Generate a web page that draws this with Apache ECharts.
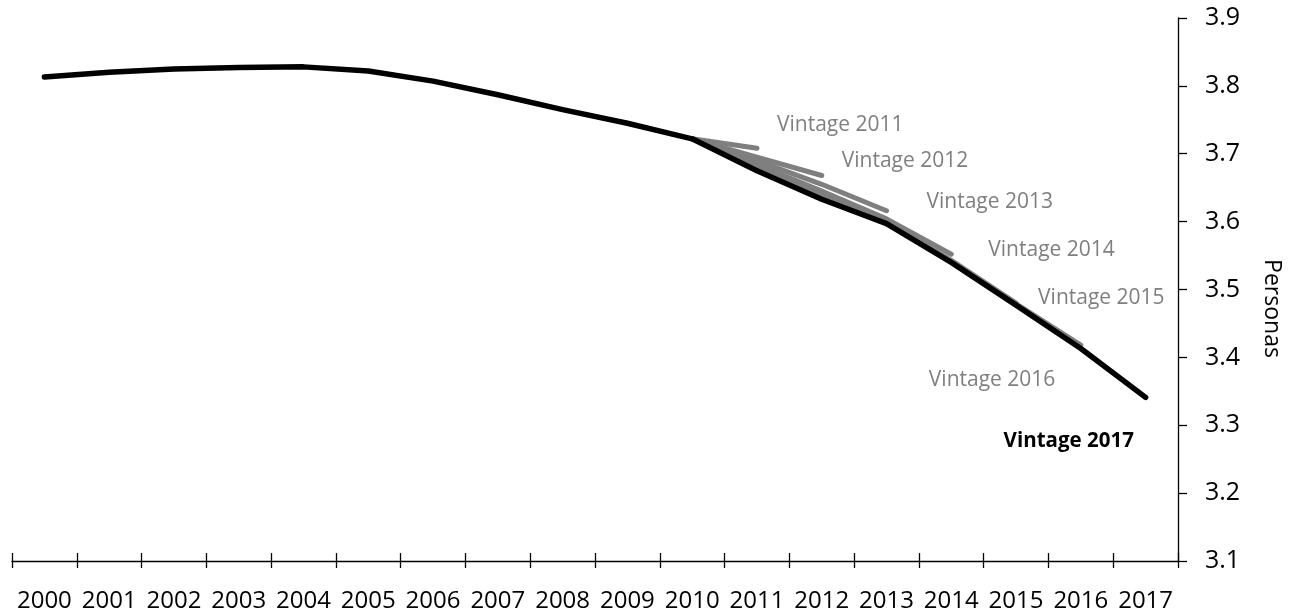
<!DOCTYPE html>
<html>
<head>
<meta charset="utf-8">
<script src="https://cdn.jsdelivr.net/npm/echarts@6/dist/echarts.min.js"></script>
<style>
html,body{margin:0;padding:0;background:#fff;}
#c{width:1294px;height:613px;}
</style>
</head>
<body>
<div id="c"></div>
<script>
var years = ['2000','2001','2002','2003','2004','2005','2006','2007','2008','2009','2010','2011','2012','2013','2014','2015','2016','2017'];
var yTicks = [3.1, 3.9, 0.1]; // min, max, step
var v2017 = [3.813,3.820,3.825,3.827,3.828,3.822,3.807,3.787,3.765,3.745,3.722,3.675,3.633,3.597,3.540,3.477,3.413,3.341];
var v2011 = [null,null,null,null,null,null,null,null,null,null,3.722,3.708];
var v2012 = [null,null,null,null,null,null,null,null,null,null,3.722,3.695,3.668];
var v2013 = [null,null,null,null,null,null,null,null,null,null,3.722,3.690,3.655,3.616];
var v2014 = [null,null,null,null,null,null,null,null,null,null,3.722,3.684,3.645,3.604,3.552];
var v2015 = [null,null,null,null,null,null,null,null,null,null,3.722,3.680,3.638,3.599,3.543,3.480];
var v2016 = [null,null,null,null,null,null,null,null,null,null,3.722,3.678,3.636,3.598,3.542,3.479,3.418];
// label anchors: text, year, value, horizontal offset
var labelNames = ['Vintage 2011','Vintage 2012','Vintage 2013','Vintage 2014','Vintage 2015','Vintage 2016','Vintage 2017'];
var labelYears = ['2011','2012','2013','2014','2015','2016','2017'];
var labelValues = [3.743,3.689,3.629,3.558,3.487,3.367,3.276];
var labelDx = [20,20,40,37,22,-152,-142];

var grayVals = [v2011,v2012,v2013,v2014,v2015,v2016];
var GRAY = '#7f7f7f';
var FONT = 'Open Sans';

function mp(i, bold) {
  return {
    symbol: 'circle', symbolSize: 0, silent: true,
    itemStyle: {color: 'rgba(0,0,0,0)'},
    data: [{
      coord: [labelYears[i], labelValues[i]],
      label: {
        show: true, formatter: labelNames[i], position: [labelDx[i], 0],
        align: 'left', verticalAlign: 'middle',
        color: bold ? '#000' : GRAY, fontFamily: FONT,
        fontSize: bold ? 20.5 : 21, fontWeight: bold ? 'bold' : 'normal'
      }
    }]
  };
}

var series = [];
grayVals.forEach(function (vals, i) {
  series.push({
    name: labelNames[i], type: 'line', data: vals, showSymbol: false, symbol: 'none',
    connectNulls: false, z: 2, silent: true,
    lineStyle: {color: GRAY, width: 5, cap: 'round', join: 'round'},
    markPoint: mp(i, false)
  });
});
series.push({
  name: 'Vintage 2017', type: 'line', data: v2017, showSymbol: false, symbol: 'none', z: 3, silent: true,
  lineStyle: {color: '#000', width: 5.5, cap: 'round', join: 'round'},
  markPoint: mp(6, true)
});

var chart = echarts.init(document.getElementById('c'));
chart.setOption({
  animation: false,
  backgroundColor: '#fff',
  grid: {left: 12, right: 116, top: 18, bottom: 50, containLabel: false},
  xAxis: [{
    type: 'category', data: years, boundaryGap: true, position: 'bottom',
    axisLine: {show: true, lineStyle: {color: '#000', width: 1.3}},
    axisTick: {show: true, length: 7, inside: false, lineStyle: {color: '#000', width: 1.3}},
    axisLabel: {color: '#000', fontFamily: FONT, fontSize: 24, margin: 28, interval: 0},
    splitLine: {show: false}
  }, {
    type: 'category', data: years, boundaryGap: true, position: 'bottom', gridIndex: 0,
    axisLine: {show: false},
    axisTick: {show: true, length: 8, inside: true, lineStyle: {color: '#000', width: 1.3}},
    axisLabel: {show: false}, splitLine: {show: false}
  }],
  yAxis: {
    type: 'value', position: 'right', min: yTicks[0], max: yTicks[1], interval: yTicks[2],
    axisLine: {show: true, lineStyle: {color: '#000', width: 1.3}},
    axisTick: {show: true, length: 9, inside: false, lineStyle: {color: '#000', width: 1.3}},
    axisLabel: {color: '#000', fontFamily: FONT, fontSize: 25, margin: 27,
      formatter: function (v) { return v.toFixed(1); }},
    splitLine: {show: false},
    name: 'Personas', nameLocation: 'middle', nameRotate: -90, nameGap: 82,
    nameTextStyle: {color: '#000', fontFamily: FONT, fontSize: 23, padding: [0, 0, 0, 38]}
  },
  series: series
});
</script>
</body>
</html>
